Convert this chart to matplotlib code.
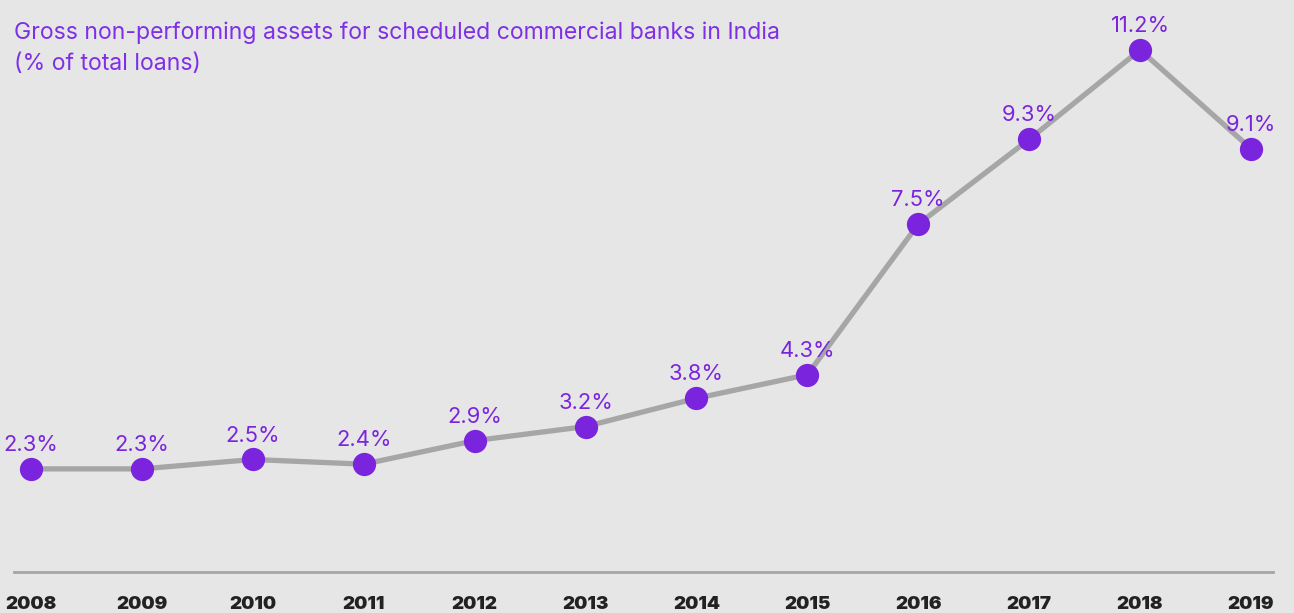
import matplotlib.pyplot as plt

plt.rcParams['font.family'] = ['Inter', 'DejaVu Sans']

years = ['2008', '2009', '2010', '2011', '2012', '2013',
         '2014', '2015', '2016', '2017', '2018', '2019']
gnpa = [2.3, 2.3, 2.5, 2.4, 2.9, 3.2, 3.8, 4.3, 7.5, 9.3, 11.2, 9.1]

purple = '#7a24de'
grey = '#a6a6a6'
bg = '#e6e6e6'

fig = plt.figure(figsize=(12.94, 6.13), dpi=100, facecolor=bg)
ax = fig.add_axes([14 / 1294, 41 / 613, 1259 / 1294, 572 / 613])
ax.set_facecolor(bg)

x = list(range(len(years)))
ax.plot(x, gnpa, color=grey, lw=3.8, zorder=2, solid_capstyle='round')
ax.scatter(x, gnpa, s=280, color=purple, zorder=3, linewidths=0)

for xi, v in zip(x, gnpa):
    ax.annotate(f'{v}%', (xi, v), xytext=(0, 10), textcoords='offset points',
                ha='center', va='bottom', fontsize=15.8, color=purple)

ax.set_xlim(-0.153, 11.198)
ax.set_ylim(0.11, 12.26)
ax.set_xticks(x)
ax.set_xticklabels(years, fontsize=13.5, fontweight='black', color='#222222')
ax.tick_params(axis='x', length=0, pad=17)
ax.set_yticks([])
for s in ['top', 'left', 'right']:
    ax.spines[s].set_visible(False)
ax.spines['bottom'].set_color(grey)
ax.spines['bottom'].set_linewidth(2)

fig.text(14 / 1294, 1 - 21 / 613,
         'Gross non-performing assets for scheduled commercial banks in India\n(% of total loans)',
         ha='left', va='top', fontsize=16.6, color='#7f30e6', linespacing=1.58)

fig.savefig('out.png', dpi=100, facecolor=bg)
